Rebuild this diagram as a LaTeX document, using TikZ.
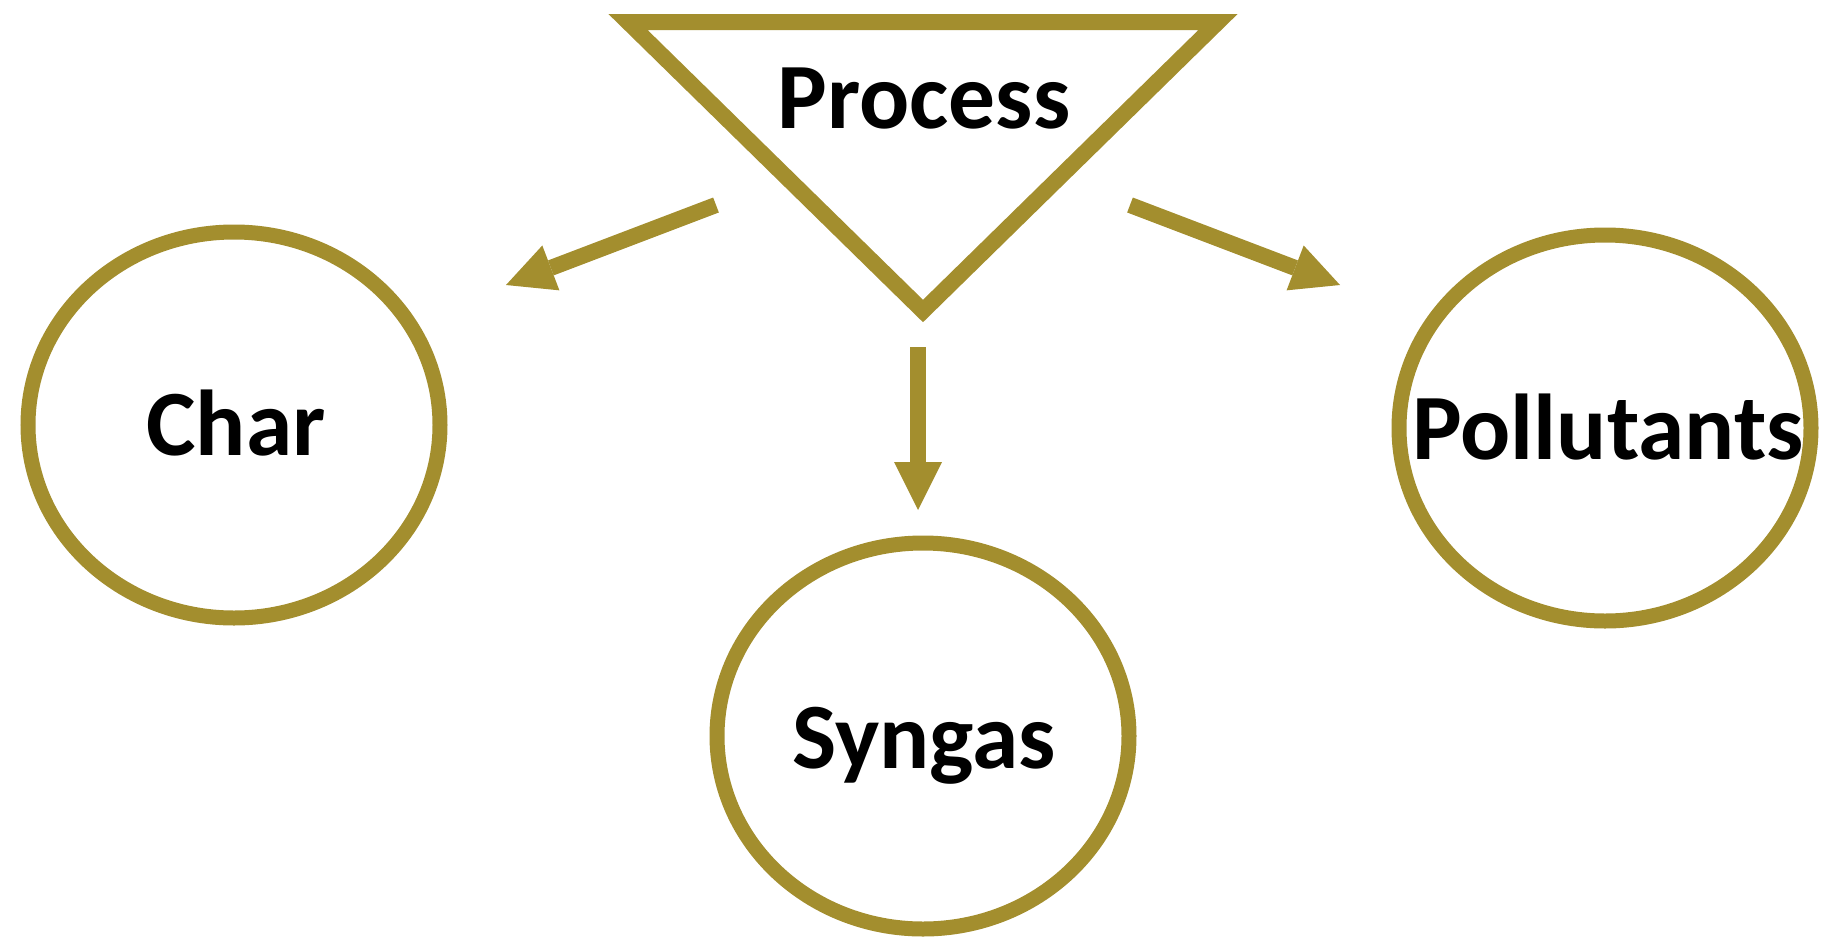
\documentclass[tikz,border=0pt]{standalone}
\usepackage{fontspec}
\setmainfont{Carlito}
\usepackage{tikz}
\usetikzlibrary{arrows.meta,shapes.geometric}
\definecolor{mustard}{RGB}{163,142,46}

\begin{document}
\begin{tikzpicture}[x=0.5pt,y=-0.5pt,
  blob/.style={draw=mustard,line width=7.5pt,ellipse,minimum width=206pt,minimum height=193pt,inner sep=0pt},
  word/.style={anchor=base,inner sep=0pt,font=\fontsize{46.75}{56}\selectfont\bfseries},
  flow/.style={draw=mustard,line width=8pt,-{Triangle[length=24pt,width=24pt,line width=0pt]}}]
\useasboundingbox (0,0) rectangle (1832,938);
% the process triangle
\coordinate (tl) at (628,22);
\coordinate (tr) at (1218,22);
\coordinate (tb) at (923,311);
\draw[mustard,line width=8pt,line join=miter] (tl)--(tr)--(tb)--cycle;
\node[word] (process) at (924,128) {Process};
% products
\node[blob] (char) at (234,425) {};
\node[blob] (syngas) at (923,736) {};
\node[blob] (poll) at (1605,428) {};
\node[word] (chartxt) at (236,455) {Char};
\node[word] (syntxt) at (924,768) {Syngas};
\node[word] (polltxt) at (1608,459) {Pollutants};
% arrows
\coordinate (la) at (716,205); \coordinate (lb) at (506,285);
\coordinate (ra) at (1130,205); \coordinate (rb) at (1340,285);
\coordinate (da) at (918,347); \coordinate (db) at (918,510);
\draw[flow] (la)--(lb);
\draw[flow] (ra)--(rb);
\draw[flow] (da)--(db);
\end{tikzpicture}
\end{document}
